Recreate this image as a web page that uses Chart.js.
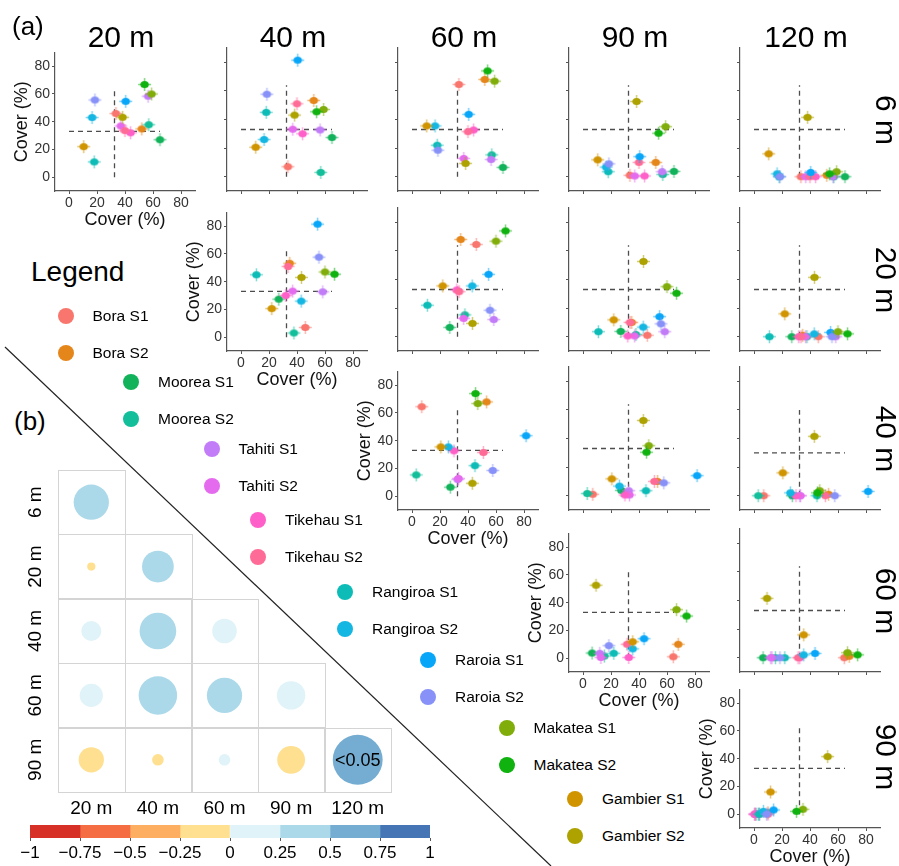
<!DOCTYPE html>
<html>
<head>
<meta charset="utf-8">
<script src="https://cdn.jsdelivr.net/npm/chart.js@4.4.0/dist/chart.umd.min.js"></script>
<style>
  body { margin: 0; background: #fff; }
  #page { position: relative; width: 899px; height: 866px; overflow: hidden;
          font-family: "Liberation Sans", Arial, Helvetica, sans-serif; color: #000; }
  #page canvas { position: absolute; }
  .txt { position: absolute; white-space: nowrap; line-height: 1; }
  .dot { position: absolute; width: 16px; height: 16px; border-radius: 50%; }
</style>
</head>
<body>
<div id="page">
  <svg width="899" height="866" style="position:absolute;left:0;top:0">
    <line x1="5" y1="347" x2="551" y2="866" stroke="#222" stroke-width="1.2"/>
  </svg>
</div>
<script>
// sites and their colours (legend order)
const sites = ['Bora S1', 'Bora S2', 'Moorea S1', 'Moorea S2', 'Tahiti S1', 'Tahiti S2',
  'Tikehau S1', 'Tikehau S2', 'Rangiroa S1', 'Rangiroa S2', 'Raroia S1', 'Raroia S2',
  'Makatea S1', 'Makatea S2', 'Gambier S1', 'Gambier S2'];
const siteColors = ['#F8766D', '#E5861B', '#12B25A', '#13BE9B', '#C27CF8', '#E56BEE',
  '#FF5FC8', '#FF6B97', '#0DBCB6', '#14B6E2', '#08A6F8', '#8791F8',
  '#80AD0A', '#10B210', '#CF9400', '#ADA200'];

// mean cover (%) per site at each depth
const depthLabels = ['6 m', '20 m', '40 m', '60 m', '90 m', '120 m'];
const cover6   = [33.5, 52, 65, 57, 56.5, 37, 44, 40, 18, 16.5, 40.5, 18.5, 59, 54, 10.5, 38.3];
const cover20  = [45.9, 34.8, 27, 37.8, 58.4, 36.9, 32, 33.6, 11, 43, 54.7, 55.7, 60, 66.8, 22, 43.2];
const cover40  = [7, 53.3, 27.4, 3, 32.7, 33.2, 30, 51, 45, 26, 81.5, 57.7, 47, 45.4, 20.6, 43.1];
const cover60  = [64.5, 68, 6.5, 15.3, 12, 12.8, 32.7, 31.5, 22, 35.5, 43.6, 18.5, 66.8, 74, 35.5, 9.3];
const cover90  = [1, 10, 3.7, 1.5, 3.5, 0.5, 0.5, 10, 3.5, 6.7, 14, 9, 35, 30.4, 11.8, 52.6];
const cover120 = [0, 1, 0, 0, 0, 0, 0, 0, 0, 2, 3, 0, 3.5, 2, 16, 41.5];
const axisTicks = [0, 20, 40, 60, 80];

// dashed reference lines
const cutX = 32.5, cutXTop = 64;
const cutY = 33, cutYEnd = 65;
const cutYSpecial = { '2-4': 30 };
const cutXTopSpecial = { '2-4': 60 };

// correlation matrix (rows = x depth, cols = y depth)
const corrRows = ['6 m', '20 m', '40 m', '60 m', '90 m'];
const corrCols = ['20 m', '40 m', '60 m', '90 m', '120 m'];
const corr6m  = [0.37];
const corr20m = [-0.02, 0.30];
const corr40m = [0.12, 0.40, 0.18];
const corr60m = [0.16, 0.44, 0.37, 0.24];
const corr90m = [-0.19, -0.04, 0.04, -0.23, 0.74];
const sigCell = { row: 4, col: 4, text: '<0.05' };

// colour key
const keyEdges = [-1, -0.75, -0.5, -0.25, 0, 0.25, 0.5, 0.75, 1];
const keyColors = ['#D73027', '#F46D43', '#FDAE61', '#FEE090', '#E0F3F8', '#ABD9E9', '#74ADD1', '#4575B4'];

Chart.defaults.font.family = '"Liberation Sans", Arial, Helvetica, sans-serif';
Chart.defaults.color = '#333';
Chart.defaults.animation = false;

const page = document.getElementById('page');
const coverByDepth = [cover6, cover20, cover40, cover60, cover90, cover120];
const corrByRow = [corr6m, corr20m, corr40m, corr60m, corr90m];

function addText(text, x, y, size, extra) {
  const d = document.createElement('div');
  d.className = 'txt';
  d.textContent = text;
  d.style.left = x + 'px';
  d.style.top = (y - size / 2) + 'px';
  d.style.fontSize = size + 'px';
  if (extra) Object.assign(d.style, extra);
  page.appendChild(d);
  return d;
}
function addCentered(text, cx, cy, size, rot) {
  const d = addText(text, cx, cy, size);
  d.style.left = cx + 'px';
  d.style.top = cy + 'px';
  d.style.transform = 'translate(-50%,-50%)' + (rot ? ' rotate(' + rot + 'deg)' : '');
  return d;
}
function addCanvas(left, top, w, h) {
  const c = document.createElement('canvas');
  c.width = w; c.height = h;
  c.style.left = left + 'px'; c.style.top = top + 'px';
  c.style.width = w + 'px'; c.style.height = h + 'px';
  page.appendChild(c);
  return c;
}

// marker = dot with small error cross
function makeMarker(color) {
  const c = document.createElement('canvas');
  c.width = 17; c.height = 17;
  const g = c.getContext('2d');
  g.globalAlpha = 0.55;
  g.strokeStyle = color;
  g.lineWidth = 1.5;
  g.beginPath();
  g.moveTo(2, 8.5); g.lineTo(15, 8.5);
  g.moveTo(8.5, 2); g.lineTo(8.5, 15);
  g.stroke();
  g.globalAlpha = 1;
  g.fillStyle = color;
  g.beginPath();
  g.ellipse(8.5, 8.5, 4.2, 3.5, 0, 0, Math.PI * 2);
  g.fill();
  return c;
}
const markers = siteColors.map(makeMarker);

// ---------- (a) scatter grid ----------
const colLeft = [55, 227, 398, 569, 740];
const rowZero = [177, 337, 496, 658, 814];
const PX_X = 1.4, PX_Y = 1.43;
const L = 44, B = 43, T = 6, R = 8;
const plotW = 100 * PX_X, plotH = 100 * PX_Y;

for (let r = 0; r < 5; r++) {
  for (let c = r; c < 5; c++) {
    const diag = r === c;
    const areaTop = Math.round(rowZero[r] - 90 * PX_Y);
    const cv = addCanvas(colLeft[c] - L, areaTop - T, L + plotW + R, T + plotH + B);
    const xs = coverByDepth[r], ys = coverByDepth[c + 1];
    const key = r + '-' + c;
    const hY = cutYSpecial[key] !== undefined ? cutYSpecial[key] : cutY;
    const vTop = cutXTopSpecial[key] !== undefined ? cutXTopSpecial[key] : cutXTop;
    const sets = sites.map((s, i) => ({
      label: s,
      data: [{ x: xs[i], y: ys[i] }],
      pointStyle: markers[i],
      pointRadius: 4,
      order: sites.length - i
    }));
    const dash = { borderColor: '#4d4d4d', borderWidth: 1.3, borderDash: [5, 4], pointRadius: 0, showLine: true, order: 100 };
    sets.push(Object.assign({ data: [{ x: 0, y: hY }, { x: cutYEnd, y: hY }] }, dash));
    sets.push(Object.assign({ data: [{ x: cutX, y: 0 }, { x: cutX, y: vTop }] }, dash));

    const axisOpts = (isX) => ({
      type: 'linear', min: -10, max: 90,
      afterBuildTicks: s => { s.ticks = axisTicks.map(v => ({ value: v })); },
      afterFit: s => { if (isX) s.height = B; else s.width = L; },
      ticks: { display: diag, color: '#333', font: { size: 14 }, padding: isX ? 1 : 2,
               autoSkip: false, maxRotation: 0, callback: v => String(v) },
      grid: { drawOnChartArea: false, drawTicks: true, tickLength: 3, color: '#555' },
      border: { display: true, color: '#555', width: 1.2 },
      title: { display: diag, text: 'Cover (%)', color: '#111', font: { size: 18 },
               padding: { top: 0, bottom: 3 } }
    });
    new Chart(cv, {
      type: 'scatter',
      data: { datasets: sets },
      options: {
        responsive: false, maintainAspectRatio: false,
        layout: { autoPadding: false, padding: { top: T, right: R, left: 0, bottom: 0 } },
        plugins: { legend: { display: false }, tooltip: { enabled: false } },
        scales: { x: axisOpts(true), y: axisOpts(false) }
      }
    });
  }
}

// column and row headers
const colCenters = colLeft.map(x => x + 66);
corrCols.forEach((t, c) => addCentered(t, colCenters[c], 37, 30));
corrRows.forEach((t, r) => addCentered(t, 886, rowZero[r] - 40 * PX_Y, 30, 90));
addText('(a)', 12, 26, 26);
addText('(b)', 14, 421, 26);

// legend (staircase)
addText('Legend', 31, 272, 28);
const legendSteps = [[65.5, 316], [131, 382], [211.5, 449], [258, 520], [345, 592], [428, 660], [506.5, 728], [575, 799]];
sites.forEach((s, i) => {
  const step = legendSteps[Math.floor(i / 2)];
  const x = step[0], y = step[1] + (i % 2) * 36.5;
  const d = document.createElement('div');
  d.className = 'dot';
  d.style.left = (x - 8) + 'px';
  d.style.top = (y - 8) + 'px';
  d.style.background = siteColors[i];
  page.appendChild(d);
  addText(s, x + 27, y, 15.5);
});

// ---------- (b) correlation matrix ----------
function keyColor(v) {
  for (let i = 0; i < keyColors.length; i++) {
    if (v <= keyEdges[i + 1]) return keyColors[i];
  }
  return keyColors[keyColors.length - 1];
}
const corrPoints = [];
corrByRow.forEach((row, i) => row.forEach((v, j) => {
  corrPoints.push({ x: j + 0.5, y: i + 0.5, r: 29 * Math.sqrt(Math.abs(v)), v: v });
}));

const corrDecor = {
  id: 'corrDecor',
  beforeDatasetsDraw(chart) {
    const { ctx, scales: { x, y } } = chart;
    ctx.save();
    ctx.strokeStyle = '#d4d4d4';
    ctx.lineWidth = 1;
    corrByRow.forEach((row, i) => row.forEach((v, j) => {
      const x0 = x.getPixelForValue(j), x1 = x.getPixelForValue(j + 1);
      const y0 = y.getPixelForValue(i), y1 = y.getPixelForValue(i + 1);
      ctx.strokeRect(Math.round(x0) + 0.5, Math.round(y0) + 0.5, Math.round(x1 - x0), Math.round(y1 - y0));
    }));
    ctx.restore();
  },
  afterDatasetsDraw(chart) {
    const { ctx, scales: { x, y } } = chart;
    ctx.save();
    ctx.fillStyle = '#000';
    ctx.textAlign = 'center';
    ctx.textBaseline = 'middle';
    ctx.font = '18px "Liberation Sans", Arial, sans-serif';
    ctx.fillText(sigCell.text, x.getPixelForValue(sigCell.col + 0.5), y.getPixelForValue(sigCell.row + 0.5) + 1);
    ctx.font = '19px "Liberation Sans", Arial, sans-serif';
    corrRows.forEach((t, i) => {
      ctx.save();
      ctx.translate(36, y.getPixelForValue(i + 0.5));
      ctx.rotate(-Math.PI / 2);
      ctx.fillText(t, 0, 0);
      ctx.restore();
    });
    ctx.restore();
  }
};

const corrCanvas = addCanvas(0, 460, 440, 370);
new Chart(corrCanvas, {
  type: 'bubble',
  data: { datasets: [{ data: corrPoints, backgroundColor: ctx => keyColor(ctx.raw.v), borderWidth: 0 }] },
  options: {
    responsive: false, maintainAspectRatio: false,
    layout: { autoPadding: false, padding: { left: 58, top: 10, right: 49, bottom: 0 } },
    plugins: { legend: { display: false }, tooltip: { enabled: false } },
    scales: {
      x: {
        type: 'linear', min: 0, max: 5,
        afterBuildTicks: s => { s.ticks = corrCols.map((t, j) => ({ value: j + 0.5 })); },
        afterFit: s => { s.height = 38; },
        ticks: { color: '#000', font: { size: 19 }, padding: 5, autoSkip: false, maxRotation: 0,
                 callback: v => corrCols[Math.floor(v)] },
        grid: { display: false, drawTicks: false }, border: { display: false }
      },
      y: { type: 'linear', min: 0, max: 5, reverse: true, display: false }
    }
  },
  plugins: [corrDecor]
});

// colour key
const keyCanvas = addCanvas(0, 815, 445, 51);
new Chart(keyCanvas, {
  type: 'bar',
  data: {
    labels: [''],
    datasets: keyColors.map((col, i) => ({
      data: [[keyEdges[i], keyEdges[i + 1]]],
      backgroundColor: col, borderWidth: 0, grouped: false,
      barPercentage: 1, categoryPercentage: 1
    }))
  },
  options: {
    indexAxis: 'y',
    responsive: false, maintainAspectRatio: false,
    layout: { autoPadding: false, padding: { left: 30, top: 10, right: 15, bottom: 0 } },
    plugins: { legend: { display: false }, tooltip: { enabled: false } },
    scales: {
      x: {
        type: 'linear', min: -1, max: 1,
        afterBuildTicks: s => { s.ticks = keyEdges.map(v => ({ value: v })); },
        afterFit: s => { s.height = 28; },
        ticks: { color: '#000', font: { size: 17 }, padding: 2, autoSkip: false, maxRotation: 0,
                 callback: v => (v < 0 ? '\u2212' + Math.abs(v) : String(v)) },
        grid: { drawOnChartArea: false, tickLength: 3, color: '#555' },
        border: { display: false }
      },
      y: { display: false }
    }
  }
});
</script>
</body>
</html>
